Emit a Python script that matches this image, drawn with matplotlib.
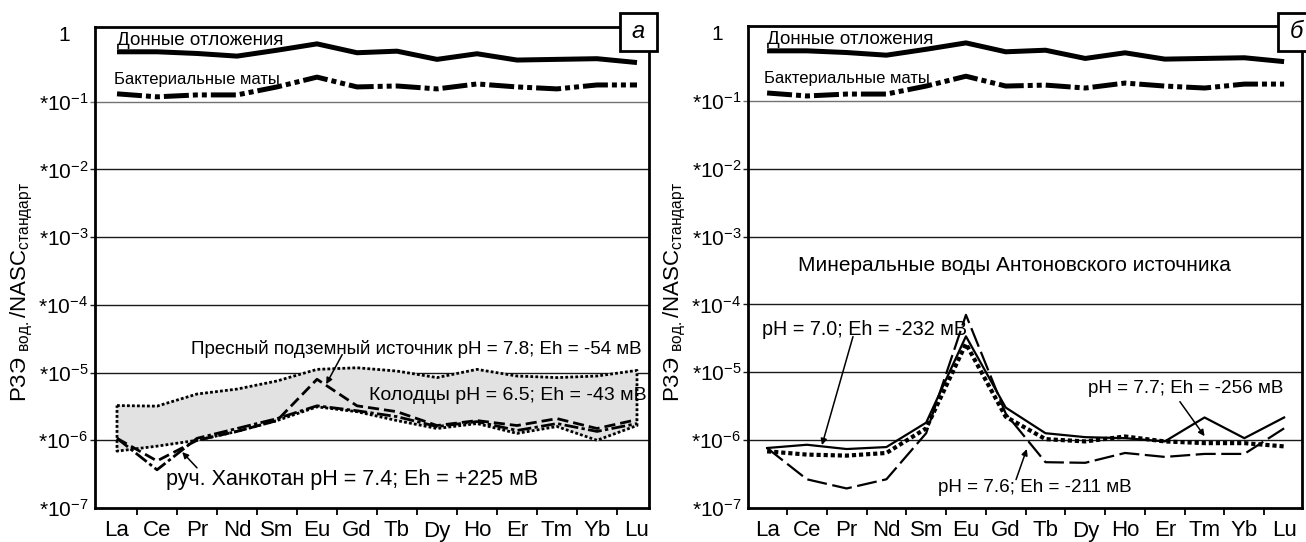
import numpy as np
import matplotlib
matplotlib.use("Agg")
import matplotlib.pyplot as plt
from matplotlib.patches import Rectangle

plt.rcParams['font.family'] = ['Liberation Sans', 'DejaVu Sans']
plt.rcParams['mathtext.fontset'] = 'custom'
plt.rcParams['mathtext.rm'] = 'Liberation Sans'
plt.rcParams['mathtext.it'] = 'Liberation Sans:italic'

# elements on the x axis
ree = ["La", "Ce", "Pr", "Nd", "Sm", "Eu", "Gd", "Tb", "Dy", "Ho", "Er", "Tm", "Yb", "Lu"]

# log10 of REE / NASC
# both panels: bottom sediments and bacterial mats
sediments = [-0.263, -0.263, -0.288, -0.327, -0.240, -0.146, -0.277, -0.254, -0.375, -0.292, -0.385, -0.375, -0.365, -0.422]
bact_mats = [-0.884, -0.928, -0.900, -0.900, -0.782, -0.637, -0.782, -0.768, -0.811, -0.738, -0.782, -0.811, -0.753, -0.753]

# panel a: wells (range), fresh underground spring, Khankotan stream
wells_top = [-5.487, -5.496, -5.317, -5.244, -5.124, -4.953, -4.929, -4.978, -5.074, -4.953, -5.051, -5.074, -5.051, -4.968]
wells_bot = [-6.160, -6.087, -6.000, -5.869, -5.709, -5.506, -5.578, -5.709, -5.826, -5.753, -5.898, -5.797, -6.000, -5.782]
fresh_spring = [-5.971, -6.305, -6.000, -5.869, -5.709, -5.099, -5.491, -5.578, -5.782, -5.709, -5.782, -5.680, -5.826, -5.695]
stream = [-5.971, -6.436, -5.971, -5.826, -5.680, -5.491, -5.564, -5.651, -5.797, -5.724, -5.855, -5.753, -5.869, -5.753]

# panel b: Antonovsky mineral waters
min_70 = [-6.116, -6.068, -6.131, -6.102, -5.742, -4.470, -5.520, -5.898, -5.956, -5.971, -6.019, -5.666, -5.971, -5.666]
min_76 = [-6.116, -6.577, -6.712, -6.577, -5.898, -4.154, -5.608, -6.325, -6.334, -6.189, -6.247, -6.203, -6.203, -5.826]
min_77 = [-6.165, -6.213, -6.228, -6.189, -5.826, -4.580, -5.655, -5.985, -6.019, -5.946, -6.019, -6.044, -6.044, -6.092]

ytick_vals = [0, -1, -2, -3, -4, -5, -6, -7]
ytick_labels = ["1   "] + [r"*10$^{%d}$" % v for v in ytick_vals[1:]]
ylabel = r"РЗЭ $_{\mathrm{вод.}}$/NASC$_{\mathrm{стандарт}}$"

W, H = 1306, 542
fig = plt.figure(figsize=(W / 100, H / 100), dpi=100)


def px_rect(x0, x1, y_top, y_bot):
    return [x0 / W, 1 - y_bot / H, (x1 - x0) / W, (y_bot - y_top) / H]


x = np.arange(len(ree))
p = lambda v: 10 ** np.asarray(v)


def setup(ax, xlim):
    ax.set_yscale("log")
    ax.set_xlim(*xlim)
    ax.set_ylim(1e-7, 10 ** 0.103)
    for v in ytick_vals[1:-1]:
        c = "0.45" if v == -1 else "0.1"
        ax.hlines(10.0 ** v, xlim[0] - 0.13, xlim[1], color=c, lw=1.0, clip_on=False, zorder=1)
    ax.set_yticks([10.0 ** v for v in ytick_vals])
    ax.set_yticklabels(ytick_labels, fontsize=15)
    ax.yaxis.set_minor_locator(matplotlib.ticker.NullLocator())
    ax.tick_params(axis="y", which="major", length=0, pad=5)
    ax.set_xticks(x)
    ax.set_xticklabels(ree, fontsize=16)
    ax.set_xticks(x[:-1] + 0.5, minor=True)
    ax.tick_params(axis="x", which="major", length=0, pad=9)
    ax.tick_params(axis="x", which="minor", length=5, width=1.3, direction="out")
    for s in ax.spines.values():
        s.set_linewidth(2.0)
    # common top lines
    ax.plot(x, p(sediments), color="black", lw=3.6, solid_capstyle="butt", zorder=3)
    ax.plot(x, p(bact_mats), color="black", lw=3.6, linestyle=(0, (5, 0.8, 1, 0.8, 1, 0.8)), zorder=3)
    ax.text(0, 10 ** -0.099, "Донные отложения", fontsize=13.5, va="center", ha="left")
    ax.text(-0.07, 10 ** -0.666, "Бактериальные маты", fontsize=12, va="center", ha="left")


arrow = dict(arrowstyle="-|>", color="black", lw=1.1, mutation_scale=9, shrinkA=0, shrinkB=0)

# ---------------- panel a ----------------
ax1 = fig.add_axes(px_rect(95, 649, 27, 508))
setup(ax1, (-0.55, 13.3))
poly_x = np.concatenate([x, x[::-1], x[:1]])
poly_y = np.concatenate([wells_top, wells_bot[::-1], wells_top[:1]])
ax1.fill(poly_x, p(poly_y), color="#e2e2e2", zorder=2)
ax1.plot(poly_x, p(poly_y), color="black", lw=2.0, linestyle=(0, (1, 0.8)), zorder=3)
ax1.plot(x, p(fresh_spring), color="black", lw=2.0, linestyle=(0, (4, 1.8)), zorder=4)
ax1.plot(x, p(stream), color="black", lw=2.0, linestyle=(0, (5, 1.2, 1.2, 1.2)), zorder=4)
ax1.text(1.85, 10 ** -4.648, "Пресный подземный источник pH = 7.8; Eh = -54 мВ", fontsize=13.5, va="center")
ax1.text(6.3, 10 ** -5.342, "Колодцы pH = 6.5; Eh = -43 мВ", fontsize=14, va="center")
ax1.text(1.22, 10 ** -6.577, "руч. Ханкотан pH = 7.4; Eh = +225 мВ", fontsize=15.5, va="center")
ax1.annotate("", xy=(5.23, 10 ** -5.171), xytext=(5.63, 10 ** -4.735), arrowprops=arrow)
ax1.annotate("", xy=(1.63, 10 ** -6.174), xytext=(2.0, 10 ** -6.407), arrowprops=arrow)

# ---------------- panel b ----------------
ax2 = fig.add_axes(px_rect(748, 1302, 26, 508))
setup(ax2, (-0.48, 13.45))
ax2.plot(x, p(min_70), color="black", lw=1.6, zorder=4)
ax2.plot(x, p(min_76), color="black", lw=1.6, linestyle=(0, (9, 2.5)), zorder=4)
ax2.plot(x, p(min_77), color="black", lw=3.0, linestyle=(0, (1, 0.7)), zorder=4)
ax2.text(6.23, 10 ** -3.427, "Минеральные воды Антоновского источника", fontsize=15, ha="center", va="center")
ax2.text(-0.13, 10 ** -4.372, "pH = 7.0; Eh = -232 мВ", fontsize=14.2, va="center")
ax2.text(8.07, 10 ** -5.244, "pH = 7.7; Eh = -256 мВ", fontsize=13.6, va="center")
ax2.text(4.30, 10 ** -6.698, "pH = 7.6; Eh = -211 мВ", fontsize=13.6, va="center")
ax2.annotate("", xy=(1.38, 10 ** -6.073), xytext=(2.16, 10 ** -4.474), arrowprops=arrow)
ax2.annotate("", xy=(11.0, 10 ** -5.942), xytext=(10.38, 10 ** -5.433), arrowprops=arrow)
ax2.annotate("", xy=(6.53, 10 ** -6.131), xytext=(6.26, 10 ** -6.581), arrowprops=arrow)

# y labels
fig.text(22 / W, 1 - 292 / H, ylabel, rotation=90, fontsize=16, ha="center", va="center")
fig.text(675 / W, 1 - 292 / H, ylabel, rotation=90, fontsize=16, ha="center", va="center")

# panel letters in boxes
for (bx0, by0, letter) in [(620, 13, "а"), (1278, 13, "б")]:
    fig.add_artist(Rectangle((bx0 / W, 1 - (by0 + 38) / H), 37 / W, 38 / H, transform=fig.transFigure,
                             facecolor="white", edgecolor="black", lw=2.0, zorder=10))
    fig.text((bx0 + 18.5) / W, 1 - (by0 + 19) / H, letter, fontsize=17, style="italic",
             ha="center", va="center", zorder=11)

fig.savefig("out.png", dpi=100)
